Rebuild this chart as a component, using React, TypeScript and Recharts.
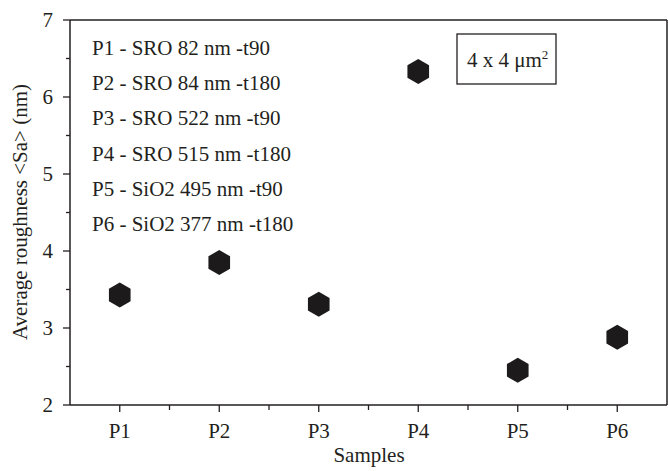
import React from 'react';
import { ScatterChart, Scatter, XAxis, YAxis, Customized } from 'recharts';

const samples = ['P1', 'P2', 'P3', 'P4', 'P5', 'P6'];
const roughness = [3.43, 3.85, 3.31, 6.33, 2.45, 2.88];
const xTicks = [1, 1.5, 2, 2.5, 3, 3.5, 4, 4.5, 5, 5.5, 6];
const yTicks = [2, 2.5, 3, 3.5, 4, 4.5, 5, 5.5, 6, 6.5, 7];
const legendLines = [
  'P1 - SRO 82 nm -t90',
  'P2 - SRO 84 nm -t180',
  'P3 - SRO 522 nm -t90',
  'P4 - SRO 515 nm -t180',
  'P5 - SiO2 495 nm -t90',
  'P6 - SiO2 377 nm -t180',
];
const areaLabel = '4 x 4 \u03bcm';
const areaSup = '2';
const xTitle = 'Samples';
const yTitle = 'Average roughness <Sa> (nm)';

const data = samples.map((s, i) => ({ x: i + 1, y: roughness[i], name: s }));

const INK = '#231f20';
const FONT = '"Liberation Serif", "Times New Roman", serif';
const FS = 21;
const isMajor = (v: number) => Math.abs(v - Math.round(v)) < 1e-6;

const BottomTick = (props: any) => {
  const { x, y, payload } = props;
  const v = payload.value;
  const major = isMajor(v);
  return (
    <g>
      <line x1={x} y1={y} x2={x} y2={y + (major ? 7 : 5)} stroke={INK} strokeWidth={1.3} />
      {major && (
        <text x={x} y={y + 33} textAnchor="middle" fontSize={FS} fontFamily={FONT} fill={INK}>
          {samples[Math.round(v) - 1]}
        </text>
      )}
    </g>
  );
};

const TopTick = (props: any) => {
  const { x, y } = props;
  return <line x1={x} y1={y} x2={x} y2={y + 6} stroke={INK} strokeWidth={1.3} />;
};

const LeftTick = (props: any) => {
  const { x, y, payload } = props;
  const v = payload.value;
  const major = isMajor(v);
  return (
    <g>
      <line x1={x} y1={y} x2={x - (major ? 7 : 4)} y2={y} stroke={INK} strokeWidth={1.3} />
      {major && (
        <text x={x - 17} y={y + 7} textAnchor="end" fontSize={FS} fontFamily={FONT} fill={INK}>
          {v}
        </text>
      )}
    </g>
  );
};

const RightTick = (props: any) => {
  const { x, y, payload } = props;
  const major = isMajor(payload.value);
  return <line x1={x} y1={y} x2={x - (major ? 7 : 4)} y2={y} stroke={INK} strokeWidth={1.3} />;
};

const Hexagon = (props: any) => {
  const { cx, cy } = props;
  const r = 12.5;
  const pts = [0, 1, 2, 3, 4, 5]
    .map((k) => {
      const a = (Math.PI / 3) * k - Math.PI / 2;
      return `${cx + r * Math.cos(a)},${cy + r * Math.sin(a)}`;
    })
    .join(' ');
  return <polygon points={pts} fill="#1c1a1b" />;
};

const Annotations = () => (
  <g fontFamily={FONT} fill={INK}>
    {legendLines.map((t, i) => (
      <text key={t} x={92} y={55 + i * 35.2} fontSize={FS}>
        {t}
      </text>
    ))}
    <rect x={457} y={34} width={99} height={50} fill="none" stroke={INK} strokeWidth={1.3} />
    <text x={467} y={67} fontSize={FS}>
      {areaLabel}
      <tspan fontSize={13} dy={-8}>{areaSup}</tspan>
    </text>
    <text x={369} y={462} textAnchor="middle" fontSize={FS}>
      {xTitle}
    </text>
    <text transform="translate(27,212) rotate(-90)" textAnchor="middle" fontSize={FS}>
      {yTitle}
    </text>
  </g>
);

export default function App() {
  return (
    <div style={{ position: 'absolute', left: 0, top: 0, background: '#fff' }}>
      <ScatterChart width={668} height={471} margin={{ top: 19, right: 0, bottom: 0, left: 0 }}>
        <XAxis
          xAxisId="bottom"
          dataKey="x"
          type="number"
          domain={[0.5, 6.5]}
          ticks={xTicks}
          interval={0}
          height={66}
          tickSize={0}
          tickMargin={0}
          tickLine={false}
          axisLine={{ stroke: INK, strokeWidth: 1.5 }}
          tick={<BottomTick />}
        />
        <XAxis
          xAxisId="top"
          orientation="top"
          type="number"
          domain={[0.5, 6.5]}
          ticks={xTicks}
          interval={0}
          height={1}
          tickSize={0}
          tickMargin={0}
          tickLine={false}
          axisLine={{ stroke: INK, strokeWidth: 1.5 }}
          tick={<TopTick />}
        />
        <YAxis
          yAxisId="left"
          dataKey="y"
          type="number"
          domain={[2, 7]}
          ticks={yTicks}
          interval={0}
          width={70}
          tickSize={0}
          tickMargin={0}
          tickLine={false}
          axisLine={{ stroke: INK, strokeWidth: 1.5 }}
          tick={<LeftTick />}
        />
        <YAxis
          yAxisId="right"
          orientation="right"
          type="number"
          domain={[2, 7]}
          ticks={yTicks}
          interval={0}
          width={1}
          tickSize={0}
          tickMargin={0}
          tickLine={false}
          axisLine={{ stroke: INK, strokeWidth: 1.5 }}
          tick={<RightTick />}
        />
        <Scatter
          data={data}
          xAxisId="bottom"
          yAxisId="left"
          shape={<Hexagon />}
          isAnimationActive={false}
        />
        <Customized component={<Annotations />} />
      </ScatterChart>
    </div>
  );
}
